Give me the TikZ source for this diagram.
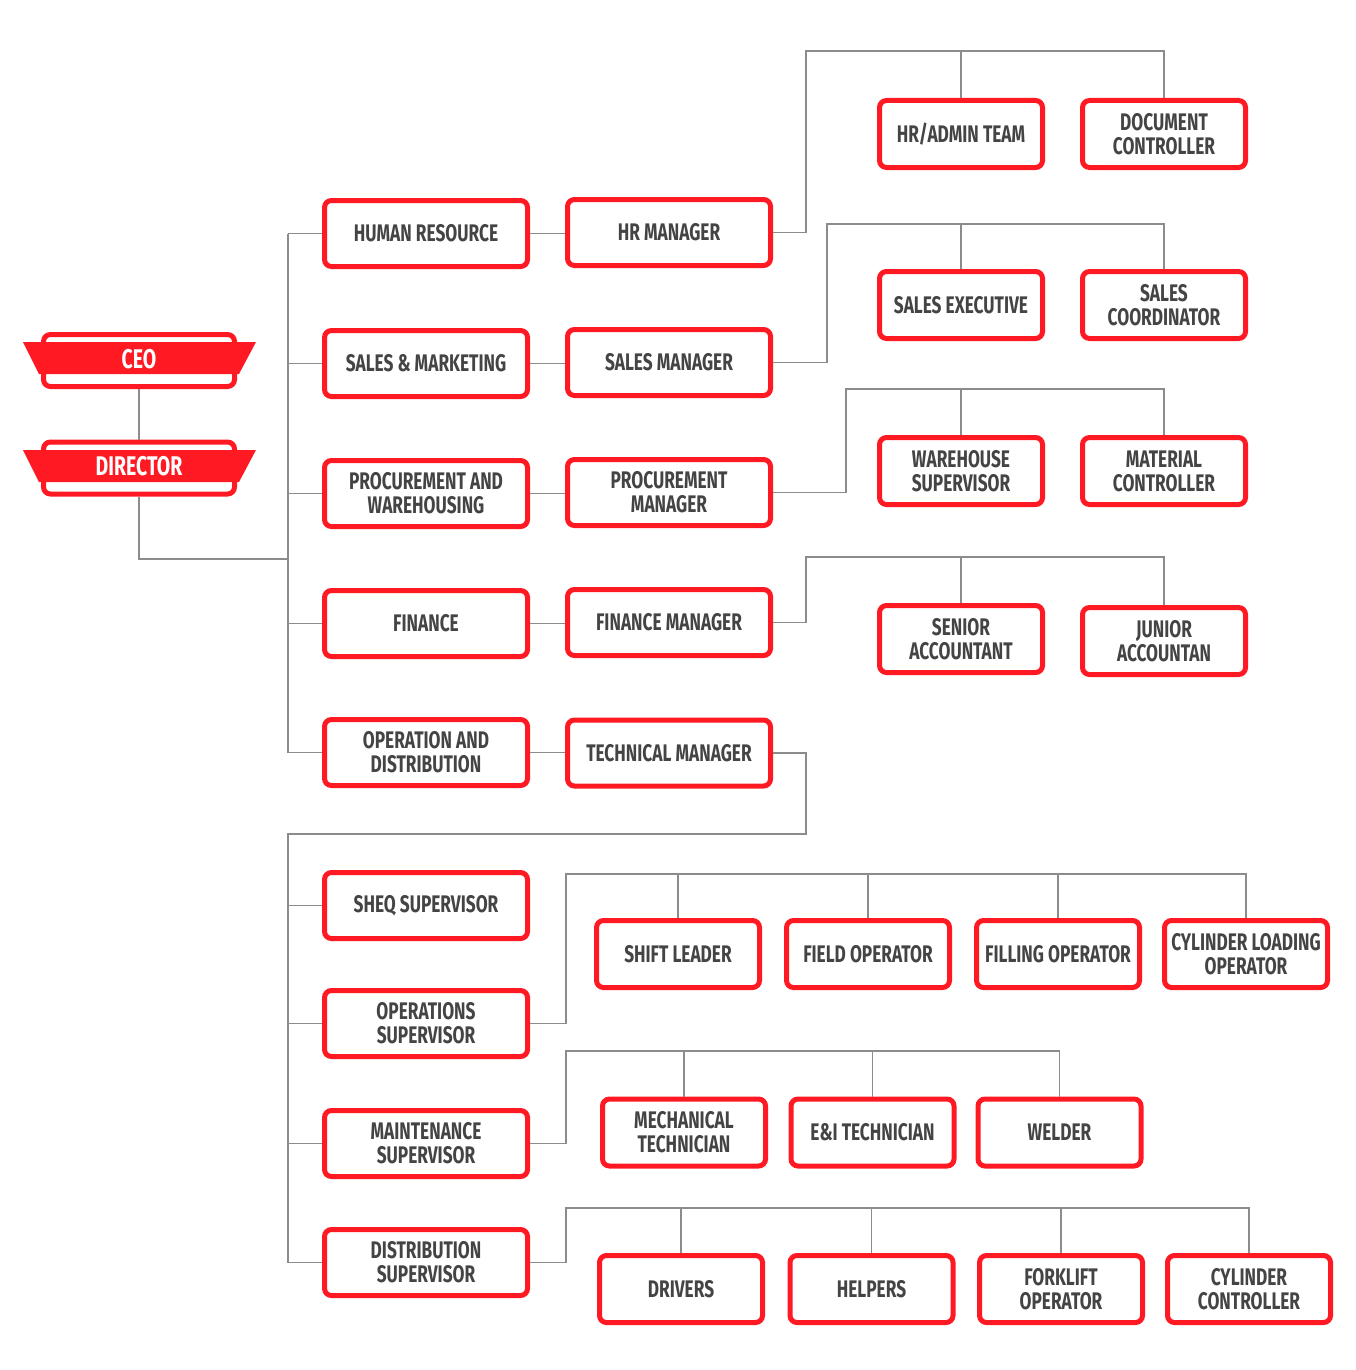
\documentclass[tikz,border=0pt]{standalone}
\usepackage{fontspec}
\setmainfont{Fira Sans}[FakeStretch=0.72]
\definecolor{cred}{HTML}{FF1A23}
\definecolor{ctext}{HTML}{444444}
\definecolor{cline}{HTML}{8C8C8C}
\begin{document}
\begin{tikzpicture}[x=1pt,y=-1pt,
  box/.style={draw=cred, line width=5pt, rounded corners=7pt, fill=white,
    align=center, text=ctext, inner sep=0pt,
    font=\fontsize{24}{24}\selectfont\bfseries},
  dbox/.style={box, minimum width=203pt, minimum height=66pt},
  sbox/.style={box, minimum width=163pt, minimum height=67pt},
  topbox/.style={box, minimum width=191pt, minimum height=52pt},
  ribtext/.style={text=white, inner sep=0pt, font=\fontsize{27}{27}\selectfont\bfseries},
  wire/.style={draw=cline, line width=1.2pt}]
\useasboundingbox (0,0) rectangle (1355,1370);

% ---------- CEO / DIRECTOR ----------
\node[topbox] (ceo) at (139,360.5) {};
\fill[cred] (23,342) -- (256,342) -- (239,374) -- (39,374) -- cycle;
\node[ribtext] (ceotxt) at (139,359) {CEO};
\node[topbox] (dir) at (139,468) {};
\fill[cred] (23,450) -- (256,450) -- (239,482) -- (39,482) -- cycle;
\node[ribtext] (dirtxt) at (139,466.5) {DIRECTOR};

% ---------- departments ----------
\node[dbox] (hr)   at (426,233.5) {HUMAN RESOURCE};
\node[dbox] (sm)   at (426,363.5) {SALES \& MARKETING};
\node[dbox] (pw)   at (426,493.5) {PROCUREMENT AND\\WAREHOUSING};
\node[dbox] (fin)  at (426,623.5) {FINANCE};
\node[dbox] (od)   at (426,752.5) {OPERATION AND\\DISTRIBUTION};

% ---------- managers ----------
\node[dbox] (hrm)  at (669,232.5) {HR MANAGER};
\node[dbox] (smm)  at (669,362.5) {SALES MANAGER};
\node[dbox] (pm)   at (669,492.5) {PROCUREMENT\\MANAGER};
\node[dbox] (fm)   at (669,622.5) {FINANCE MANAGER};
\node[dbox] (tm)   at (669,753)   {TECHNICAL MANAGER};

% ---------- level 3 ----------
\node[sbox] (hra)  at (961,134)  {HR/ADMIN TEAM};
\node[sbox] (doc)  at (1164,134) {DOCUMENT\\CONTROLLER};
\node[sbox] (se)   at (961,305)  {SALES EXECUTIVE};
\node[sbox] (sc)   at (1164,305) {SALES\\COORDINATOR};
\node[sbox] (ws)   at (961,471)  {WAREHOUSE\\SUPERVISOR};
\node[sbox] (mc)   at (1164,471) {MATERIAL\\CONTROLLER};
\node[sbox] (sa)   at (961,639)  {SENIOR\\ACCOUNTANT};
\node[sbox] (ja)   at (1164,641) {JUNIOR\\ACCOUNTAN};

% ---------- supervisors ----------
\node[dbox] (sheq) at (426,905.5)  {SHEQ SUPERVISOR};
\node[dbox] (ops)  at (426,1023.5) {OPERATIONS\\SUPERVISOR};
\node[dbox] (mnt)  at (426,1143.5) {MAINTENANCE\\SUPERVISOR};
\node[dbox] (dis)  at (426,1262.5) {DISTRIBUTION\\SUPERVISOR};

% ---------- bottom rows ----------
\node[sbox] (shl)  at (678,954)  {SHIFT LEADER};
\node[sbox] (fo)   at (868,954)  {FIELD OPERATOR};
\node[sbox] (flo)  at (1058,954) {FILLING OPERATOR};
\node[sbox] (clo)  at (1246,954) {CYLINDER LOADING\\OPERATOR};
\node[sbox] (mt)   at (684,1132.5)  {MECHANICAL\\TECHNICIAN};
\node[sbox] (eit)  at (872.5,1132.5) {E\&I TECHNICIAN};
\node[sbox] (wel)  at (1059.5,1132.5) {WELDER};
\node[sbox] (drv)  at (681,1289)  {DRIVERS};
\node[sbox] (hlp)  at (871.5,1289) {HELPERS};
\node[sbox] (fko)  at (1061,1289) {FORKLIFT\\OPERATOR};
\node[sbox] (cc)   at (1249,1289) {CYLINDER\\CONTROLLER};

% ---------- connectors ----------
\coordinate (j1) at (288,559);
\coordinate (j2) at (288,834);
\coordinate (tb) at (806,834);
\coordinate (b1) at (806,51);
\coordinate (b2) at (827,224);
\coordinate (b3) at (846,389);
\coordinate (b4) at (806,557);
\coordinate (o1) at (566,874);
\coordinate (o2) at (566,1051);
\coordinate (o3) at (566,1208);

\draw[wire] (ceo.south) -- (dir.north);
\draw[wire] (dir.south) |- (j1);
\draw[wire] (hr.west -| j1) -- (od.west -| j1);
\foreach \n in {hr,sm,pw,fin,od} \draw[wire] (\n.west) -- (\n.west -| j1);
\draw[wire] (hr.east) -- (hr.east -| hrm.west);
\draw[wire] (sm.east) -- (sm.east -| smm.west);
\draw[wire] (pw.east) -- (pw.east -| pm.west);
\draw[wire] (fin.east) -- (fin.east -| fm.west);
\draw[wire] (od.east) -- (od.east -| tm.west);

\draw[wire] (hrm.east) -| (b1) -| (doc.north);
\draw[wire] (hra.north) -- (hra.north |- b1);
\draw[wire] (smm.east) -| (b2) -| (sc.north);
\draw[wire] (se.north) -- (se.north |- b2);
\draw[wire] (pm.east) -| (b3) -| (mc.north);
\draw[wire] (ws.north) -- (ws.north |- b3);
\draw[wire] (fm.east) -| (b4) -| (ja.north);
\draw[wire] (sa.north) -- (sa.north |- b4);

\draw[wire] (tm.east) -| (tb) -- (j2) |- (dis.west);
\foreach \n in {sheq,ops,mnt} \draw[wire] (\n.west) -- (\n.west -| j2);

\draw[wire] (ops.east) -| (o1) -| (clo.north);
\foreach \n in {shl,fo,flo} \draw[wire] (\n.north) -- (\n.north |- o1);
\draw[wire] (mnt.east) -| (o2) -| (wel.north);
\foreach \n in {mt,eit} \draw[wire] (\n.north) -- (\n.north |- o2);
\draw[wire] (dis.east) -| (o3) -| (cc.north);
\foreach \n in {drv,hlp,fko} \draw[wire] (\n.north) -- (\n.north |- o3);
\end{tikzpicture}
\end{document}
